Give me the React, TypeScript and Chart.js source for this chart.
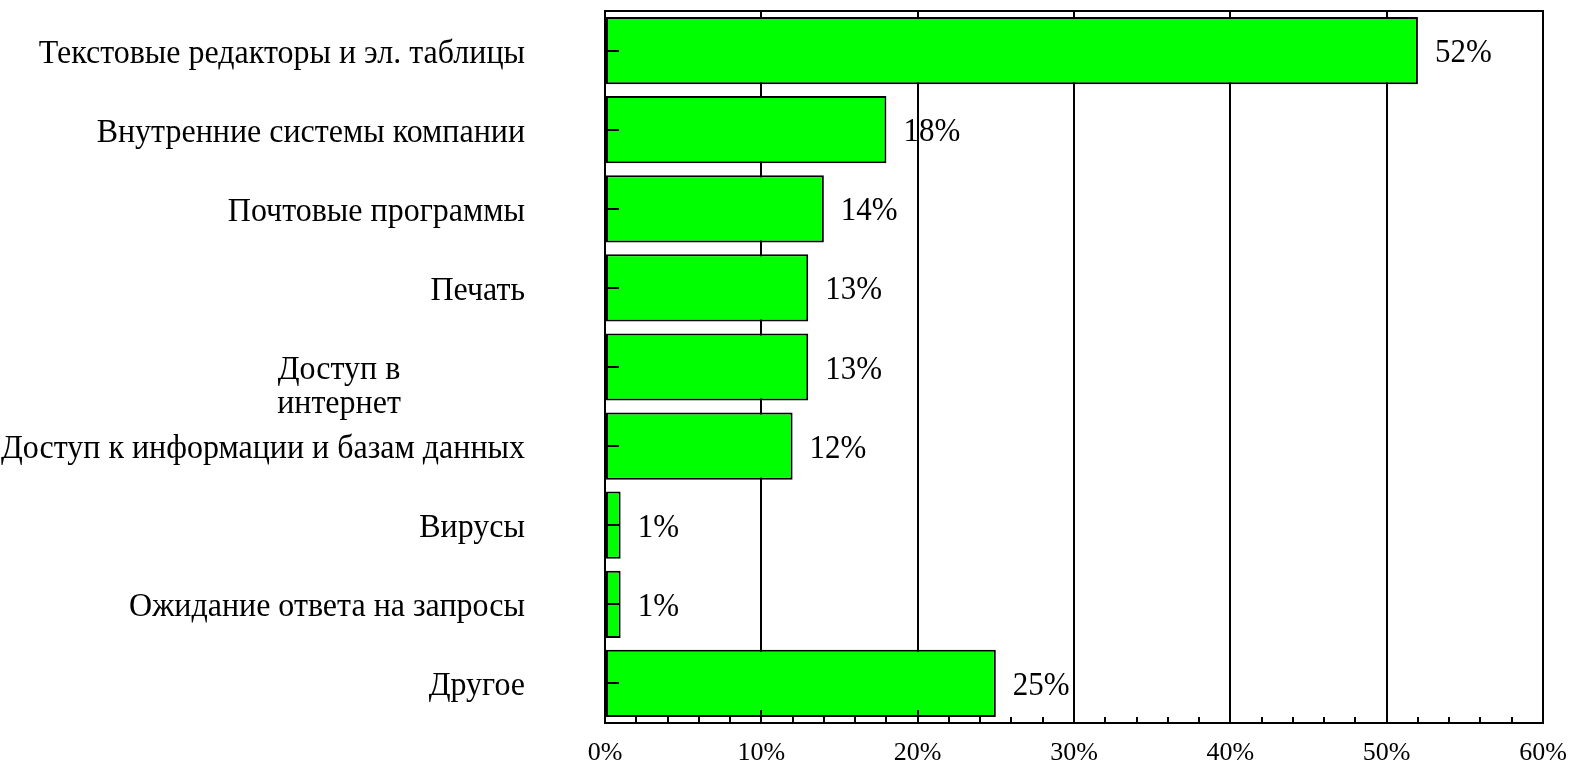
import React, { useEffect, useRef } from "react";
import { Chart, registerables } from "chart.js";

Chart.register(...registerables);

const categories: (string | string[])[] = [
  "Текстовые редакторы и эл. таблицы",
  "Внутренние системы компании",
  "Почтовые программы",
  "Печать",
  ["Доступ в", "интернет"],
  "Доступ к информации и базам данных",
  "Вирусы",
  "Ожидание ответа на запросы",
  "Другое",
];
const values = [52, 18, 14, 13, 13, 12, 1, 1, 25];
const xMin = 0;
const xMax = 60;
const majorStep = 10;
const minorStep = 2;

const SERIF = '"Liberation Serif", "Times New Roman", serif';
const STRETCH = 1.08;

function drawStretched(ctx: CanvasRenderingContext2D, text: string, x: number, y: number) {
  ctx.save();
  ctx.translate(x, y);
  ctx.scale(1, STRETCH);
  ctx.fillText(text, 0, 0);
  ctx.restore();
}

const decorPlugin = {
  id: "decor",
  afterDatasetsDraw(chart: any) {
    const { ctx, chartArea: a, scales } = chart;
    const x = scales.x;
    const y = scales.y;
    ctx.save();
    ctx.strokeStyle = "#000";
    ctx.lineWidth = 2;
    // top frame line
    ctx.beginPath();
    ctx.moveTo(a.left - 1, a.top);
    ctx.lineTo(a.right + 1, a.top);
    ctx.stroke();
    // category tick marks (inward)
    categories.forEach((_, i) => {
      const py = Math.round(y.getPixelForValue(i));
      ctx.beginPath();
      ctx.moveTo(a.left, py);
      ctx.lineTo(a.left + 14, py);
      ctx.stroke();
    });
    // x minor / major tick marks (inward)
    for (let v = xMin; v <= xMax; v += minorStep) {
      const px = Math.round(x.getPixelForValue(v));
      const len = v % majorStep === 0 ? 13 : 6;
      ctx.beginPath();
      ctx.moveTo(px, a.bottom);
      ctx.lineTo(px, a.bottom - len);
      ctx.stroke();
    }
    // data labels
    const meta = chart.getDatasetMeta(0);
    ctx.fillStyle = "#000";
    ctx.font = `31px ${SERIF}`;
    ctx.textAlign = "left";
    ctx.textBaseline = "alphabetic";
    meta.data.forEach((bar: any, i: number) => {
      drawStretched(ctx, values[i] + "%", bar.x + 17, bar.y + 11.5);
    });
    // category labels
    ctx.font = `32px ${SERIF}`;
    categories.forEach((lab, i) => {
      const py = y.getPixelForValue(i);
      if (Array.isArray(lab)) {
        ctx.textAlign = "center";
        lab.forEach((t, k) => drawStretched(ctx, t, 339, py + 12 + k * 34));
      } else {
        ctx.textAlign = "right";
        drawStretched(ctx, lab, a.left - 80, py + 12);
      }
    });
    ctx.restore();
  },
};

export default function App() {
  const ref = useRef<HTMLCanvasElement | null>(null);
  useEffect(() => {
    if (!ref.current) return;
    const chart = new Chart(ref.current, {
      type: "bar",
      data: {
        labels: categories as any,
        datasets: [
          {
            data: values,
            backgroundColor: "#00FF00",
            borderColor: "#000",
            borderWidth: 2,
            borderSkipped: false,
            barPercentage: 0.85,
            categoryPercentage: 1,
          },
        ],
      },
      options: {
        indexAxis: "y",
        animation: false,
        responsive: false,
        devicePixelRatio: 1,
        layout: { padding: { top: 11, right: 30, left: 0, bottom: 0 } },
        plugins: {
          legend: { display: false },
          tooltip: { enabled: false },
          title: { display: false },
        },
        scales: {
          x: {
            type: "linear",
            min: xMin,
            max: xMax,
            afterFit: (s: any) => {
              s.height = 41;
              s.paddingLeft = 0;
              s.paddingRight = 0;
            },
            ticks: {
              stepSize: majorStep,
              color: "#000",
              font: { family: SERIF, size: 26 },
              padding: 15,
              callback: (v: any) => v + "%",
            },
            grid: {
              color: "#000",
              lineWidth: 2,
              drawTicks: false,
            },
            border: { display: true, color: "#000", width: 2 },
          },
          y: {
            type: "category",
            afterFit: (s: any) => {
              s.width = 605;
              s.paddingTop = 0;
              s.paddingBottom = 0;
            },
            ticks: { display: false },
            grid: { display: false, drawTicks: false },
            border: { display: true, color: "#000", width: 2 },
          },
        },
      },
      plugins: [decorPlugin],
    });
    return () => chart.destroy();
  }, []);
  return (
    <div style={{ position: "absolute", left: 0, top: 0, width: 1573, height: 764, background: "#fff" }}>
      <canvas ref={ref} width={1573} height={764} style={{ display: "block" }} />
    </div>
  );
}
